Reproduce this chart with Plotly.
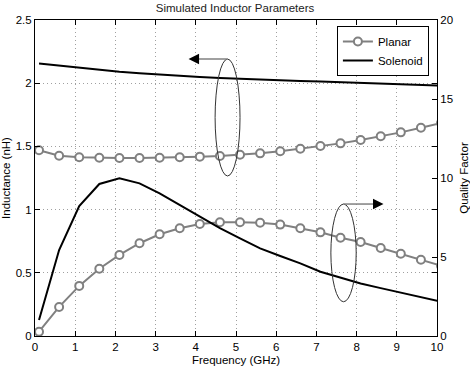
import plotly.graph_objects as go

# ---- data ----
freq = [0.1, 0.6, 1.1, 1.6, 2.1, 2.6, 3.1, 3.6, 4.1, 4.6, 5.1,
        5.6, 6.1, 6.6, 7.1, 7.6, 8.1, 8.6, 9.1, 9.6, 10.1]
planar_L = [1.47, 1.426, 1.414, 1.41, 1.408, 1.408, 1.41, 1.414, 1.419, 1.424, 1.434,
            1.445, 1.461, 1.482, 1.503, 1.524, 1.551, 1.58, 1.611, 1.648, 1.685]
solenoid_L = [2.155, 2.138, 2.12, 2.105, 2.09, 2.079, 2.068, 2.059, 2.05, 2.042, 2.035,
              2.028, 2.022, 2.018, 2.014, 2.009, 2.003, 1.998, 1.993, 1.987, 1.98]
planar_Q = [0.27, 1.84, 3.17, 4.26, 5.13, 5.87, 6.44, 6.82, 7.09, 7.2, 7.2,
            7.17, 7.05, 6.82, 6.56, 6.22, 5.95, 5.57, 5.21, 4.83, 4.45]
solenoid_Q = [1.01, 5.44, 8.23, 9.62, 9.98, 9.66, 9.03, 8.29, 7.51, 6.82, 6.18,
              5.55, 5.06, 4.6, 4.07, 3.7, 3.32, 3.03, 2.75, 2.47, 2.18]

x_ticks = [0, 1, 2, 3, 4, 5, 6, 7, 8, 9, 10]
left_ticks = [0, 0.5, 1, 1.5, 2, 2.5]
right_ticks = [0, 5, 10, 15, 20]

FONT = "Liberation Sans, Arial, sans-serif"
GRAY = "#808080"

fig = go.Figure()
fig.add_trace(go.Scatter(x=freq, y=planar_L, name="Planar", mode="lines+markers",
                         line=dict(color=GRAY, width=2),
                         marker=dict(symbol="circle", size=8, color="white",
                                     line=dict(color=GRAY, width=2)),
                         yaxis="y"))
fig.add_trace(go.Scatter(x=freq, y=solenoid_L, name="Solenoid", mode="lines",
                         line=dict(color="black", width=2), yaxis="y"))
fig.add_trace(go.Scatter(x=freq, y=planar_Q, name="Planar", mode="lines+markers",
                         line=dict(color=GRAY, width=2),
                         marker=dict(symbol="circle", size=8, color="white",
                                     line=dict(color=GRAY, width=2)),
                         yaxis="y2", showlegend=False))
fig.add_trace(go.Scatter(x=freq, y=solenoid_Q, name="Solenoid", mode="lines",
                         line=dict(color="black", width=2), yaxis="y2",
                         showlegend=False))

# ellipses and arrows (annotation marks, in data coords)
fig.add_shape(type="circle", xref="x", yref="y", x0=4.48, x1=5.10, y0=1.266, y1=2.191,
              line=dict(color="#333333", width=1))
fig.add_shape(type="circle", xref="x", yref="y", x0=7.36, x1=7.99, y0=0.271, y1=1.044,
              line=dict(color="#333333", width=1))
fig.add_shape(type="line", xref="x", yref="y", x0=4.79, x1=4.0, y0=2.191, y1=2.191,
              line=dict(color=GRAY, width=1.5))
fig.add_shape(type="line", xref="x", yref="y", x0=7.675, x1=8.45, y0=1.044, y1=1.044,
              line=dict(color=GRAY, width=1.5))
fig.add_annotation(x=3.82, y=2.191, ax=4.1, ay=2.191, xref="x", yref="y",
                   axref="x", ayref="y", showarrow=True, arrowhead=2, arrowsize=1.4,
                   arrowwidth=1.5, arrowcolor="black", text="")
fig.add_annotation(x=8.67, y=1.044, ax=8.4, ay=1.044, xref="x", yref="y",
                   axref="x", ayref="y", showarrow=True, arrowhead=2, arrowsize=1.4,
                   arrowwidth=1.5, arrowcolor="black", text="")

axis_common = dict(showline=True, linecolor="black", linewidth=1, ticks="inside",
                   ticklen=5, tickcolor="black", zeroline=False, automargin=False,
                   tickfont=dict(family=FONT, size=11.5, color="black"))
grid_common = dict(showgrid=True, gridcolor="#a0a0a0", griddash="1px,3px", gridwidth=1)

fig.update_layout(
    width=470, height=370,
    margin=dict(l=35, r=33, t=20, b=34),
    paper_bgcolor="white", plot_bgcolor="white",
    font=dict(family=FONT, size=11.5, color="black"),
    title=dict(text="Simulated Inductor Parameters", x=0.5, xanchor="center",
               y=1 - 8 / 370, yanchor="middle", yref="container",
               font=dict(family=FONT, size=11.5, color="#222222")),
    xaxis=dict(range=[0, 10], tickvals=x_ticks, mirror="ticks",
               title=dict(text="Frequency (GHz)", standoff=4,
                          font=dict(family=FONT, size=11.5)),
               **grid_common, **axis_common),
    yaxis=dict(range=[0, 2.5], tickvals=left_ticks, mirror="ticks",
               title=dict(text="Inductance (nH)", standoff=4,
                          font=dict(family=FONT, size=11.5)),
               **grid_common, **axis_common),
    yaxis2=dict(range=[0, 20], tickvals=right_ticks, overlaying="y", side="right",
                showgrid=False,
                title=dict(text="Quality Factor", standoff=7,
                           font=dict(family=FONT, size=11.5)),
                **axis_common),
    legend=dict(x=0.751, y=0.981, xanchor="left", yanchor="top",
                bgcolor="white", bordercolor="black", borderwidth=1,
                font=dict(family=FONT, size=11.5, color="black"),
                tracegroupgap=0),
    showlegend=True,
)

fig.write_html("out.html")
